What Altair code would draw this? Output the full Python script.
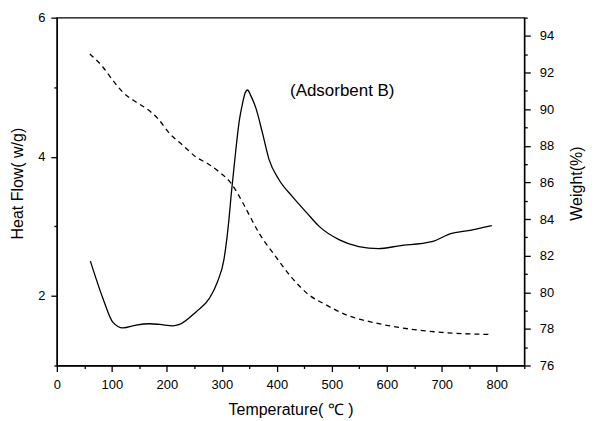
import altair as alt
import pandas as pd

# Heat flow (solid, left axis)
temp_heat = [61, 84, 102, 120, 144, 168, 187, 211, 223, 253, 277, 292, 304, 313, 317,
             323, 332, 338, 343, 347, 352, 362, 374, 386, 404, 428, 455, 477,
             513, 549, 585, 622, 682, 718, 742, 791]
heat_flow = [2.50, 1.96, 1.62, 1.54, 1.58, 1.60, 1.59, 1.57, 1.59, 1.77, 1.96, 2.20, 2.53, 3.10, 3.45,
             3.91, 4.53, 4.78, 4.93, 4.96, 4.89, 4.70, 4.34, 3.96, 3.67, 3.43, 3.19, 3.00,
             2.81, 2.71, 2.68, 2.72, 2.78, 2.90, 2.93, 3.01]

# Weight (dashed, right axis)
temp_weight = [60, 84, 102, 120, 144, 166, 184, 205, 229, 253, 274, 295, 317, 338, 353,
               368, 398, 428, 458, 489, 525, 580, 640, 700, 791]
weight = [93.02, 92.29, 91.57, 90.93, 90.39, 89.97, 89.48, 88.67, 88.03, 87.39, 87.03, 86.58, 85.95, 84.9, 84.04,
          83.22, 81.95, 80.77, 79.87, 79.32, 78.78, 78.32, 78.0, 77.81, 77.69]

label_text = ["(Adsorbent B)"]
label_x = [519]
label_y = [4.95]

x_ticks = list(range(0, 851, 50))
left_ticks = [1, 2, 3, 4, 5, 6]
right_ticks = list(range(76, 96))

FONT = "Liberation Sans"

heat_df = pd.DataFrame({"t": temp_heat, "v": heat_flow})
weight_df = pd.DataFrame({"t": temp_weight, "v": weight})
label_df = pd.DataFrame({"t": label_x, "v": label_y, "txt": label_text})

x_axis = alt.Axis(
    title="Temperature( \u2103 )",
    values=x_ticks,
    labelExpr="datum.value % 100 === 0 ? datum.label : ''",
    tickSize={"condition": {"test": "datum.value % 100 !== 0", "value": 3}, "value": 6},
    labelFlush=False,
    labelOverlap=False,
    labelPadding=7,
    titleY=44,
    titleBaseline="middle",
)
x_enc = alt.X("t:Q", scale=alt.Scale(domain=[0, 850], nice=False, zero=False), axis=x_axis)

solid = alt.Chart(heat_df).mark_line(color="black", strokeWidth=1.3, interpolate="monotone").encode(
    x=x_enc,
    y=alt.Y("v:Q", scale=alt.Scale(domain=[1, 6], nice=False, zero=False),
            axis=alt.Axis(
                title="Heat Flow( w/g)",
                orient="left",
                values=left_ticks,
                labelExpr="datum.value % 2 === 0 ? datum.label : ''",
                tickSize={"condition": {"test": "datum.value % 2 !== 0", "value": 3}, "value": 6},
                labelPadding=6,
                labelOverlap=False,
                labelFlush=False,
                titleAngle=270,
                titleX=-39,
                titleY=166,
                titleBaseline="middle",
                titleAlign="center",
            )),
)

dashed = alt.Chart(weight_df).mark_line(color="black", strokeWidth=1.3, strokeDash=[5, 4],
                                        interpolate="monotone").encode(
    x=x_enc,
    y=alt.Y("v:Q", scale=alt.Scale(domain=[76, 95], nice=False, zero=False),
            axis=alt.Axis(
                title="Weight(%)",
                orient="right",
                values=right_ticks,
                labelExpr="datum.value % 2 === 0 ? datum.label : ''",
                tickSize={"condition": {"test": "datum.value % 2 !== 0", "value": 3}, "value": 6},
                labelPadding=9,
                labelOverlap=False,
                labelFlush=False,
                titleAngle=270,
                titleX=52,
                titleY=166,
                titleBaseline="middle",
                titleAlign="center",
            )),
)

text = alt.Chart(label_df).mark_text(font=FONT, fontSize=17, color="black", align="center",
                                     baseline="middle").encode(
    x=x_enc,
    y=alt.Y("v:Q", scale=alt.Scale(domain=[1, 6], nice=False, zero=False), axis=None),
    text="txt:N",
)

chart = alt.layer(solid, dashed, text).resolve_scale(y="independent").properties(
    width=469,
    height=349,
    autosize=alt.AutoSizeParams(type="none"),
    padding={"left": 49, "top": 9, "right": 80, "bottom": 53},
).configure_view(
    stroke="black", strokeWidth=1.3
).configure_axis(
    grid=False,
    domainColor="black",
    domainWidth=1.3,
    tickColor="black",
    tickWidth=1.3,
    labelFont=FONT,
    labelFontSize=13,
    labelColor="black",
    titleFont=FONT,
    titleFontSize=16,
    titleFontWeight="normal",
    titleColor="black",
)

chart.save("out.html", embed_options={"renderer": "svg", "actions": False})
